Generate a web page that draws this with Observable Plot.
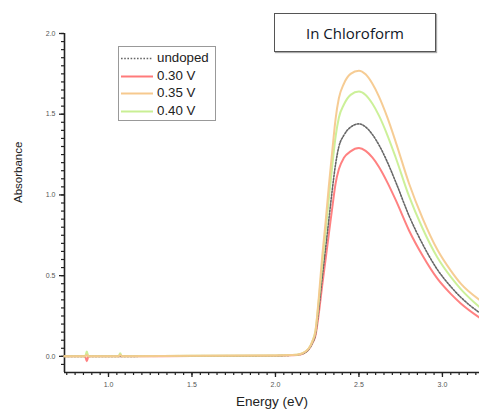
<!DOCTYPE html>
<html>
<head>
<meta charset="utf-8">
<script src="https://cdn.jsdelivr.net/npm/d3@7"></script>
<script src="https://cdn.jsdelivr.net/npm/@observablehq/plot@0.6"></script>
<style>
  html, body { margin: 0; padding: 0; background: #fff; }
  #wrap { position: relative; width: 479px; height: 414px; overflow: hidden; font-family: "Liberation Sans", Arial, sans-serif; }
  #title { position: absolute; left: 274px; top: 13px; width: 160px; height: 37px; border: 1px solid #555; box-shadow: 1px 1px 1px #aaa;
           font-family: "Open Sans", "Liberation Sans", sans-serif; font-size: 15px; color: #111827; display: flex; align-items: center; justify-content: center; background: #fff; }
  #legend { position: absolute; left: 118px; top: 46px; width: 96px; height: 73px; border: 1px solid #999; background: #fff; }
  .row { position: absolute; left: 0; height: 16px; width: 100%; }
  .row svg { position: absolute; left: 1px; top: 0; }
  .row span { position: absolute; left: 38px; top: 0; font-size: 13.3px; line-height: 16px; color: #222; }
</style>
</head>
<body>
<div id="wrap"></div>
<script>
const energy = [0.7365, 0.86, 0.87, 0.88, 1.0, 1.06, 1.07, 1.08, 1.5, 2.0, 2.1, 2.15, 2.18, 2.2, 2.22, 2.24, 2.26, 2.28, 2.3, 2.32, 2.34, 2.36, 2.38, 2.41, 2.45, 2.5, 2.54, 2.58, 2.62, 2.67, 2.72, 2.8, 2.88, 2.97, 3.05, 3.11, 3.222];
const undoped = [0, 0, 0.01, 0, 0, 0, 0.0, 0, 0.002, 0.004, 0.007, 0.013, 0.025, 0.045, 0.08, 0.14, 0.30, 0.49, 0.67, 0.85, 1.03, 1.19, 1.30, 1.37, 1.42, 1.44, 1.421, 1.375, 1.309, 1.204, 1.081, 0.871, 0.698, 0.537, 0.432, 0.366, 0.27];
const v030 = [0, 0, -0.03, 0, 0, 0, 0.0, 0, 0.002, 0.004, 0.007, 0.012, 0.025, 0.045, 0.08, 0.13, 0.27, 0.44, 0.60, 0.76, 0.92, 1.07, 1.16, 1.23, 1.27, 1.29, 1.273, 1.232, 1.173, 1.078, 0.969, 0.780, 0.626, 0.481, 0.387, 0.328, 0.24];
const v035 = [0, 0, 0.01, 0, 0, 0, 0.01, 0, 0.003, 0.005, 0.008, 0.015, 0.03, 0.05, 0.09, 0.16, 0.37, 0.62, 0.83, 1.06, 1.27, 1.47, 1.60, 1.69, 1.75, 1.77, 1.747, 1.690, 1.609, 1.480, 1.329, 1.071, 0.858, 0.660, 0.531, 0.450, 0.35];
const v040 = [0, 0, 0.03, 0, 0, 0, 0.02, 0, 0.003, 0.005, 0.008, 0.015, 0.03, 0.05, 0.09, 0.16, 0.35, 0.57, 0.77, 0.98, 1.18, 1.36, 1.48, 1.56, 1.62, 1.64, 1.619, 1.566, 1.491, 1.371, 1.232, 0.992, 0.795, 0.612, 0.492, 0.417, 0.305];
const seriesNames = ["undoped", "0.30 V", "0.35 V", "0.40 V"];
const seriesColors = ["#666666", "#ff7a7a", "#f6c98e", "#c9ef94"];
const xMajor = [1.0, 1.5, 2.0, 2.5, 3.0];
const yMajor = [0.0, 0.5, 1.0, 1.5, 2.0];
const xMinor = d3.range(15, 65).map(i => i * 0.05);
const yMinor = d3.range(-1, 41).map(i => i * 0.05);

const pts = arr => energy.map((e, i) => ({e, a: arr[i]}));

const chart = Plot.plot({
  width: 479,
  height: 414,
  marginLeft: 64,
  marginRight: 0,
  marginTop: 33,
  marginBottom: 42,
  x: {domain: [0.7365, 3.222], label: null},
  y: {domain: [-0.1, 2.0], label: null},
  style: {fontFamily: "Liberation Sans, Arial, sans-serif", background: "white"},
  marks: [
    Plot.axisX(xMinor, {tickSize: 3, tickFormat: () => "", stroke: "#222", strokeWidth: 1.2, label: null}),
    Plot.axisX(xMajor, {tickSize: 5, tickPadding: 5, tickFormat: d3.format(".1f"), fontSize: 7, fill: "#555", stroke: "#222", strokeWidth: 1.3, label: null}),
    Plot.axisY(yMinor, {tickSize: 3, tickFormat: () => "", stroke: "#222", strokeWidth: 1.2, label: null}),
    Plot.axisY(yMajor, {tickSize: 5, tickPadding: 4, tickFormat: d3.format(".1f"), fontSize: 7, fill: "#555", stroke: "#222", strokeWidth: 1.3, label: null}),
    Plot.ruleY([-0.1], {stroke: "#222", strokeWidth: 1.6}),
    Plot.ruleX([0.7365], {stroke: "#222", strokeWidth: 1.6}),
    Plot.line(pts(v030), {x: "e", y: "a", stroke: seriesColors[1], strokeWidth: 2, curve: "monotone-x", strokeOpacity: 0.95}),
    Plot.line(pts(undoped), {x: "e", y: "a", stroke: seriesColors[0], strokeWidth: 1.6, strokeDasharray: "1.6,1.6", curve: "monotone-x"}),
    Plot.line(pts(v040), {x: "e", y: "a", stroke: seriesColors[3], strokeWidth: 2, curve: "monotone-x", strokeOpacity: 0.95}),
    Plot.line(pts(v035), {x: "e", y: "a", stroke: seriesColors[2], strokeWidth: 2, curve: "monotone-x", strokeOpacity: 0.95}),
    Plot.text(["Absorbance"], {frameAnchor: "left", rotate: -90, dx: -46, fontSize: 11.5, fill: "#222"}),
    Plot.text(["Energy (eV)"], {frameAnchor: "bottom", dy: 33, fontSize: 13.5, fill: "#222"})
  ]
});

const wrap = document.getElementById("wrap");
wrap.appendChild(chart);

const title = document.createElement("div");
title.id = "title";
title.textContent = "In Chloroform";
wrap.appendChild(title);

const legend = document.createElement("div");
legend.id = "legend";
seriesNames.forEach((name, i) => {
  const row = document.createElement("div");
  row.className = "row";
  row.style.top = (3 + i * 17.5) + "px";
  const dash = i === 0 ? ' stroke-dasharray="1.6,1.6"' : '';
  const sw = i === 0 ? 1.5 : 2;
  row.innerHTML = `<svg width="34" height="16"><line x1="1" x2="33" y1="8.5" y2="8.5" stroke="${seriesColors[i]}" stroke-width="${sw}"${dash}/></svg><span>${name}</span>`;
  legend.appendChild(row);
});
wrap.appendChild(legend);
</script>
</body>
</html>
